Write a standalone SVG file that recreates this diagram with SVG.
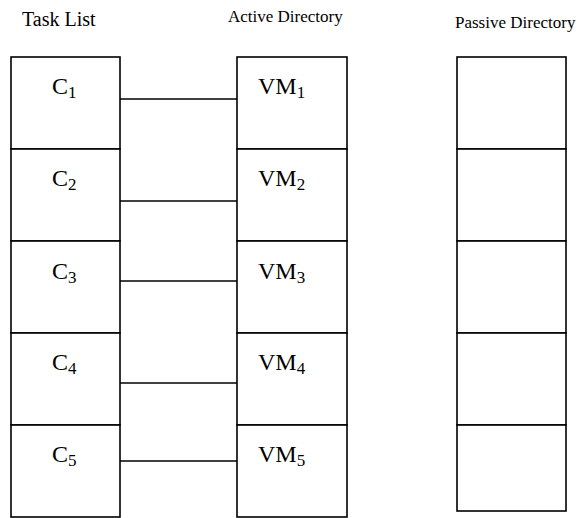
<svg xmlns="http://www.w3.org/2000/svg" width="579" height="518" viewBox="0 0 579 518">
  <style>
    .cell { fill: #fff; stroke: #000; stroke-width: 1.6; }
    .link { stroke: #000; stroke-width: 1.6; fill: none; }
    .title { font-family: "Liberation Serif", "Times New Roman", serif; fill: #000; }
    .lbl { font-family: "Liberation Serif", "Times New Roman", serif; font-size: 24px; fill: #000; }
    .sub { font-size: 17px; }
  </style>
  <rect width="579" height="518" fill="#fff"/>

  <!-- column headings -->
  <text class="title" x="22" y="26" font-size="20">Task List</text>
  <text class="title" x="228" y="22" font-size="17">Active Directory</text>
  <text class="title" x="455" y="28" font-size="17">Passive Directory</text>

  <!-- task list -->
  <g id="task-list">
    <g id="c1"><rect class="cell" x="11" y="57" width="109" height="92"/><text class="lbl" x="52" y="94">C<tspan class="sub" dy="4">1</tspan></text></g>
    <g id="c2"><rect class="cell" x="11" y="149" width="109" height="92"/><text class="lbl" x="52" y="186">C<tspan class="sub" dy="4">2</tspan></text></g>
    <g id="c3"><rect class="cell" x="11" y="241" width="109" height="92"/><text class="lbl" x="52" y="279">C<tspan class="sub" dy="4">3</tspan></text></g>
    <g id="c4"><rect class="cell" x="11" y="333" width="109" height="92"/><text class="lbl" x="52" y="370">C<tspan class="sub" dy="4">4</tspan></text></g>
    <g id="c5"><rect class="cell" x="11" y="425" width="109" height="92"/><text class="lbl" x="52" y="462">C<tspan class="sub" dy="4">5</tspan></text></g>
  </g>

  <!-- active directory -->
  <g id="active-directory">
    <g id="vm1"><rect class="cell" x="237" y="57" width="110" height="92"/><text class="lbl" x="258" y="94">VM<tspan class="sub" dy="4">1</tspan></text></g>
    <g id="vm2"><rect class="cell" x="237" y="149" width="110" height="92"/><text class="lbl" x="258" y="186">VM<tspan class="sub" dy="4">2</tspan></text></g>
    <g id="vm3"><rect class="cell" x="237" y="241" width="110" height="92"/><text class="lbl" x="258" y="279">VM<tspan class="sub" dy="4">3</tspan></text></g>
    <g id="vm4"><rect class="cell" x="237" y="333" width="110" height="92"/><text class="lbl" x="258" y="370">VM<tspan class="sub" dy="4">4</tspan></text></g>
    <g id="vm5"><rect class="cell" x="237" y="425" width="110" height="92"/><text class="lbl" x="258" y="462">VM<tspan class="sub" dy="4">5</tspan></text></g>
  </g>

  <!-- passive directory (empty slots) -->
  <g id="passive-directory">
    <g id="p1"><rect class="cell" x="457" y="57" width="109" height="92"/></g>
    <g id="p2"><rect class="cell" x="457" y="149" width="109" height="92"/></g>
    <g id="p3"><rect class="cell" x="457" y="241" width="109" height="92"/></g>
    <g id="p4"><rect class="cell" x="457" y="333" width="109" height="92"/></g>
    <g id="p5"><rect class="cell" x="457" y="425" width="109" height="86"/></g>
  </g>

  <!-- task-to-VM links -->
  <g id="connectors">
    <line class="link" x1="120" y1="99" x2="237" y2="99"/>
    <line class="link" x1="120" y1="201" x2="237" y2="201"/>
    <line class="link" x1="120" y1="281" x2="237" y2="281"/>
    <line class="link" x1="120" y1="383" x2="237" y2="383"/>
    <line class="link" x1="120" y1="461" x2="237" y2="461"/>
  </g>
</svg>
